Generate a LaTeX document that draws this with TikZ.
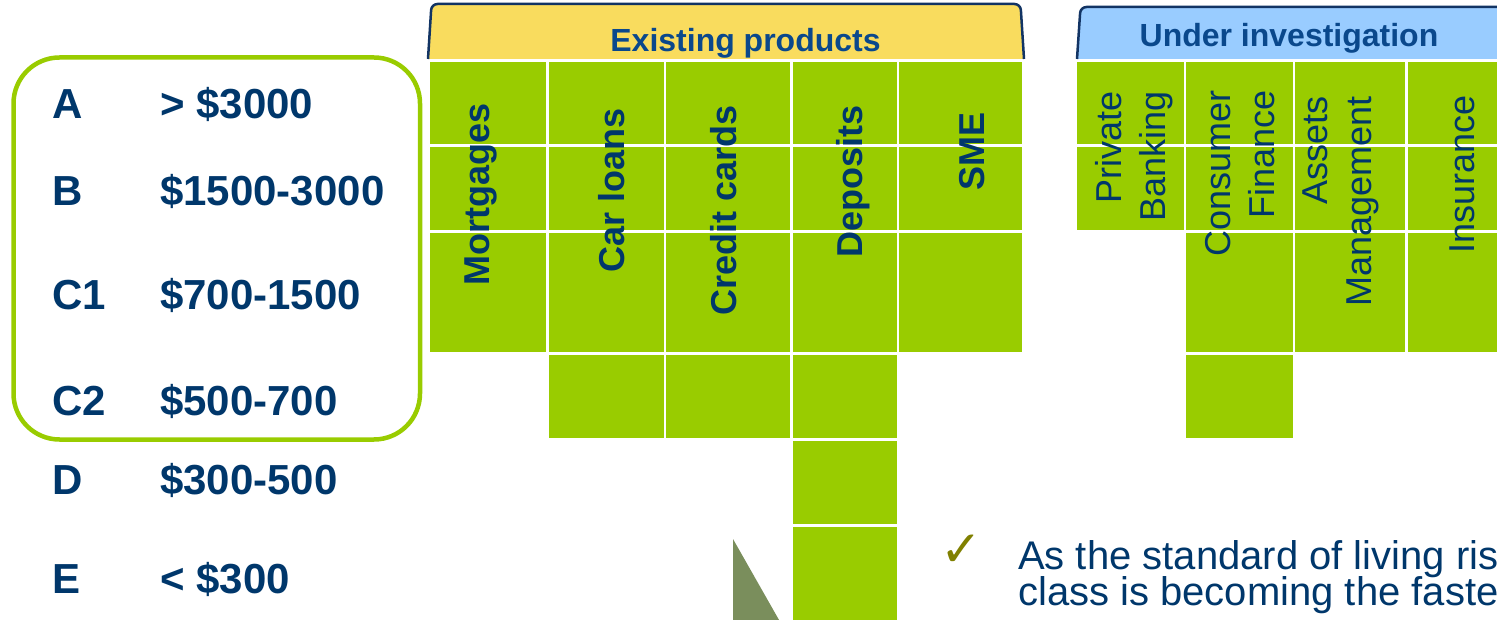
\documentclass[tikz,border=0pt]{standalone}
\usepackage{fontspec}
\setmainfont{Liberation Sans}
\newfontfamily\symfont{DejaVu Sans}
\usepackage{tikz}
\definecolor{navy}{RGB}{0,55,107}
\definecolor{headblue}{RGB}{10,72,140}
\definecolor{tabline}{RGB}{18,52,100}
\definecolor{prodgreen}{RGB}{153,204,0}
\definecolor{tabyellow}{RGB}{249,220,94}
\definecolor{tabblue}{RGB}{153,204,255}
\definecolor{olivedark}{RGB}{122,142,92}
\definecolor{tickolive}{RGB}{128,128,0}
\tikzset{
    prodcell/.style={fill=prodgreen, draw=white, line width=2.5pt},
    tabbox/.style={fill=#1, draw=tabline, line width=2.5pt, rounded corners=6pt},
    bandname/.style={anchor=base west, inner sep=0pt, text=navy,
        font=\fontsize{42}{50}\selectfont\bfseries},
    prodname/.style={rotate=90, anchor=east, inner sep=0pt, text=navy,
        font=\fontsize{36}{44}\selectfont\bfseries},
    newname/.style={rotate=90, anchor=east, inner sep=0pt, align=right, text=navy,
        font=\fontsize{36}{44}\selectfont},
    tabtitle/.style={anchor=base, inner sep=0pt, text=headblue,
        font=\fontsize{32}{38}\selectfont\bfseries},
    bodytext/.style={anchor=base west, inner sep=0pt, text=navy,
        font=\fontsize{40}{34}\selectfont}
}
\begin{document}
\begin{tikzpicture}[x=1pt, y=-1pt]
    \def\rowedges{61,145.5,231.7,353.7,439.7,525.4,660}
    \path[use as bounding box, clip] (0,0) rectangle (1497,620);

    % income bands
    \draw[prodgreen, line width=4.5pt, rounded corners=46pt] (13.5,57.5) rectangle (420,439.5);
    \node[bandname] (bandA)  at (52,119) {A};
    \node[bandname] (bandB)  at (52,206) {B};
    \node[bandname] (bandC1) at (52,310) {C1};
    \node[bandname] (bandC2) at (52,415) {C2};
    \node[bandname] (bandD)  at (52,494) {D};
    \node[bandname] (bandE)  at (52,593) {E};
    \node[bandname] (rangeA)  at (160,119) {> \$3000};
    \node[bandname] (rangeB)  at (160,206) {\$1500-3000};
    \node[bandname] (rangeC1) at (160,310) {\$700-1500};
    \node[bandname] (rangeC2) at (160,415) {\$500-700};
    \node[bandname] (rangeD)  at (160,494) {\$300-500};
    \node[bandname] (rangeE)  at (160,593) {< \$300};

    % tabs
    \path[tabbox=tabyellow] (428,59) -- (431.5,4) -- (1020.5,4) -- (1024,59);
    \path[tabbox=tabblue] (1077,59) -- (1080.5,7) -- (1540,7) -- (1540,59);
    \node[tabtitle] (existing) at (745.5,52) {Existing products};
    \node[tabtitle] (underinv) at (1289,47) {Under investigation};

    % product columns: left edge / right edge / number of cells
    \foreach \xa/\xb/\n in {428.75/547.3/3, 547.3/665/4, 665/791.5/4, 791.5/898/6, 898/1023.25/3,
                            1075.5/1185/2, 1185/1294.2/4, 1294.2/1406.4/3, 1406.4/1520/3}{
        \foreach \r in {1,...,\n}{
            \pgfmathsetmacro\ya{{\rowedges}[\r-1]}
            \pgfmathsetmacro\yb{{\rowedges}[\r]}
            \path[prodcell] (\xa,\ya) rectangle (\xb,\yb);
        }
    }

    \node[prodname] (mortgages)   at (481,103) {Mortgages};
    \node[prodname] (carloans)    at (612,108) {Car loans};
    \node[prodname] (creditcards) at (724,105) {Credit cards};
    \node[prodname] (deposits)    at (853,105) {Deposits};
    \node[prodname] (sme)         at (972,112) {SME};

    \node[newname] (private)   at (1134,91) {Private\\Banking};
    \node[newname] (consumer)  at (1240,90) {Consumer\\Finance};
    \node[newname] (assets)    at (1341,96) {Assets\\Management};
    \node[newname] (insurance) at (1462,95) {Insurance};

    \fill[olivedark] (733,539) -- (733,640) -- (790.4,640) -- cycle;

    \node[inner sep=0pt, text=tickolive, font=\symfont\fontsize{50}{50}\selectfont] (tick) at (961,551) {✓};
    \node[bodytext] (lineone) at (1018,569) {As the standard of living ris};
    \node[bodytext] (linetwo) at (1018,605) {class is becoming the faste};
\end{tikzpicture}
\end{document}
